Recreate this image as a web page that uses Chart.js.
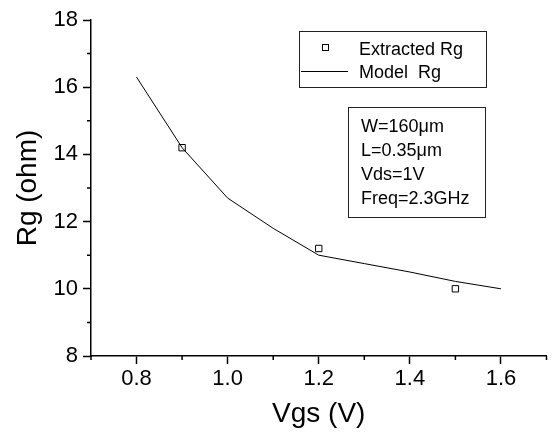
<!DOCTYPE html>
<html>
<head>
<meta charset="utf-8">
<script src="https://cdn.jsdelivr.net/npm/chart.js@4"></script>
<style>
  body { margin: 0; background: #fff; }
  #wrap { width: 552px; height: 437px; position: relative; }
</style>
</head>
<body>
<div id="wrap"><canvas id="rgChart"></canvas></div>
<script>
// 데이터
const modelVgs = [0.8, 0.9, 1.0, 1.1, 1.2, 1.3, 1.4, 1.5, 1.6];
const modelRg = [16.3, 14.2, 12.7, 11.8, 11.0, 10.75, 10.5, 10.22, 10.0];
const extractedVgs = [0.9, 1.2, 1.5];
const extractedRg = [14.2, 11.2, 10.0];

const xTicks = [0.8, 1.0, 1.2, 1.4, 1.6];
const xMinor = [0.7, 0.9, 1.1, 1.3, 1.5, 1.7];
const yTicks = [8, 10, 12, 14, 16, 18];
const yMinor = [9, 11, 13, 15, 17];

const legendLabels = ['Extracted Rg', 'Model  Rg'];
const infoLines = ['W=160\u03bcm', 'L=0.35\u03bcm', 'Vds=1V', 'Freq=2.3GHz'];

const FONT = "'Liberation Sans', Arial, sans-serif";

// 보조 눈금 + 범례 + 조건 박스
const extrasPlugin = {
    id: 'extras',
    afterDraw(chart) {
        const ctx = chart.ctx;
        const x = chart.scales.x;
        const y = chart.scales.y;
        const area = chart.chartArea;
        ctx.save();
        ctx.strokeStyle = '#000';
        ctx.lineWidth = 1.5;
        ctx.beginPath();
        xMinor.forEach(v => {
            const px = x.getPixelForValue(v);
            ctx.moveTo(px, area.bottom);
            ctx.lineTo(px, area.bottom + 4);
        });
        yMinor.forEach(v => {
            const py = y.getPixelForValue(v);
            ctx.moveTo(area.left, py);
            ctx.lineTo(area.left - 4, py);
        });
        ctx.stroke();

        // 범례
        ctx.lineWidth = 1;
        ctx.strokeStyle = '#222';
        ctx.strokeRect(299.5, 31.5, 187, 56);
        ctx.strokeStyle = '#000';
        ctx.strokeRect(322.5, 44.5, 6, 6);
        ctx.beginPath();
        ctx.moveTo(301, 71.5);
        ctx.lineTo(348, 71.5);
        ctx.stroke();
        ctx.fillStyle = '#000';
        ctx.font = '18px ' + FONT;
        ctx.textBaseline = 'alphabetic';
        ctx.fillText(legendLabels[0], 359, 55);
        ctx.fillText(legendLabels[1], 359, 78);

        // 조건 박스
        ctx.strokeStyle = '#222';
        ctx.strokeRect(348.5, 107.5, 137, 110);
        infoLines.forEach((t, i) => {
            ctx.fillText(t, 361, 132 + i * 24);
        });
        ctx.restore();
    }
};

const chart = new Chart(document.getElementById('rgChart'), {
    type: 'scatter',
    data: {
        datasets: [{
            label: 'Model  Rg',
            type: 'line',
            data: modelVgs.map((v, i) => ({ x: v, y: modelRg[i] })),
            borderColor: '#000',
            borderWidth: 1,
            pointRadius: 0,
            tension: 0,
            fill: false
        }, {
            label: 'Extracted Rg',
            data: extractedVgs.map((v, i) => ({ x: v, y: extractedRg[i] })),
            pointStyle: 'rect',
            pointRadius: 4.5,
            borderColor: '#000',
            borderWidth: 1,
            backgroundColor: 'rgba(0,0,0,0)'
        }]
    },
    options: {
        responsive: true,
        maintainAspectRatio: false,
        animation: false,
        layout: { padding: { top: 20, right: 1, left: 0, bottom: 0 } },
        plugins: {
            legend: { display: false },
            tooltip: { enabled: false }
        },
        scales: {
            x: {
                type: 'linear',
                min: 0.7,
                max: 1.7,
                afterBuildTicks: s => { s.ticks = xTicks.map(v => ({ value: v })); },
                afterFit: s => { s.height = 81; },
                ticks: {
                    color: '#000',
                    padding: 2,
                    font: { family: FONT, size: 22 },
                    callback: v => Number(v).toFixed(1)
                },
                grid: {
                    drawOnChartArea: false,
                    tickLength: 8,
                    tickColor: '#000',
                    tickWidth: 1.5
                },
                border: { display: true, color: '#000', width: 1.5 },
                title: {
                    display: true,
                    text: 'Vgs (V)',
                    color: '#000',
                    font: { family: FONT, size: 28 },
                    padding: { top: 6, bottom: 6 }
                }
            },
            y: {
                min: 8,
                max: 18,
                afterBuildTicks: s => { s.ticks = yTicks.map(v => ({ value: v })); },
                afterFit: s => { s.width = 91; },
                ticks: {
                    color: '#000',
                    padding: 5,
                    font: { family: FONT, size: 22 }
                },
                grid: {
                    drawOnChartArea: false,
                    tickLength: 8,
                    tickColor: '#000',
                    tickWidth: 1.5
                },
                border: { display: true, color: '#000', width: 1.5 },
                title: {
                    display: true,
                    text: 'Rg (ohm)',
                    color: '#000',
                    font: { family: FONT, size: 28 },
                    padding: { top: 11, bottom: 11 }
                }
            }
        }
    },
    plugins: [extrasPlugin]
});
</script>
</body>
</html>
